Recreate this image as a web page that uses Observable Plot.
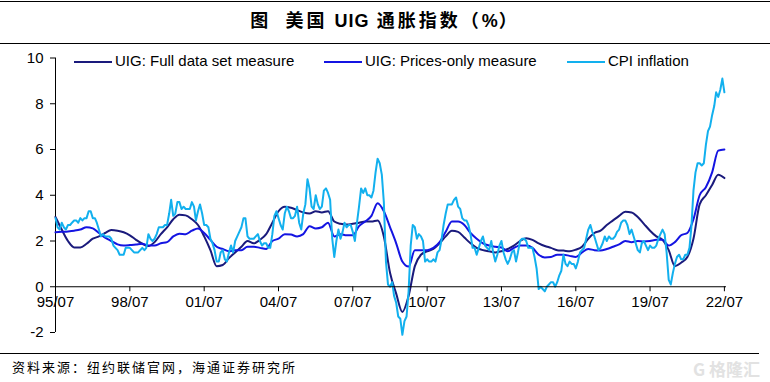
<!DOCTYPE html>
<html>
<head>
<meta charset="utf-8">
<script src="https://cdn.jsdelivr.net/npm/d3@7"></script>
<script src="https://cdn.jsdelivr.net/npm/@observablehq/plot@0.6"></script>
<style>
  html, body { margin: 0; padding: 0; background: #fff; }
  #page { position: relative; width: 770px; height: 382px; overflow: hidden; background: #fff; font-family: "Liberation Sans", Arial, sans-serif; }
  #title { position: absolute; left: 0; top: 1px; width: 770px; height: 41px; border-top: 1.5px solid #000; border-bottom: 1.5px solid #000; text-align: center; line-height: 34px; font-family: "Noto Sans CJK SC", sans-serif; font-weight: bold; font-size: 18px; letter-spacing: 3px; color: #000; }
  #title .lat { font-family: "Liberation Sans", Arial, sans-serif; font-weight: bold; letter-spacing: 1px; }
  #chart { position: absolute; left: 0; top: 45px; }
  #legend { position: absolute; left: 0; top: 51px; width: 770px; height: 20px; font-size: 15px; color: #000; }
  .item { position: absolute; top: 0; height: 20px; line-height: 20px; white-space: nowrap; }
  .sw { position: absolute; top: 10px; width: 38px; height: 2px; }
  .lab { position: absolute; top: 0; }
  #footer { position: absolute; left: 0; top: 353px; width: 759px; border-top: 1.5px solid #000; }
  #source { position: absolute; left: 12px; top: 357px; font-family: "Noto Sans CJK SC", sans-serif; font-size: 13px; letter-spacing: 2px; color: #000; line-height: 20px; }
  #wm { position: absolute; right: 10px; top: 356px; font-family: "Noto Sans CJK SC", sans-serif; font-size: 17px; color: #e2e2e2; font-weight: bold; }
</style>
</head>
<body>
<div id="page">
  <div id="title">图&nbsp;&nbsp;美国 <span class="lat">UIG</span> 通胀指数（<span class="lat">%</span>）</div>
  <div id="chart"></div>
  <div id="legend"></div>
  <div id="footer"></div>
  <div id="source">资料来源：纽约联储官网，海通证券研究所</div>
  <div id="wm">G 格隆汇</div>
</div>
<script>
// ---- Data ----
const seriesNames = ["UIG: Full data set measure", "UIG: Prices-only measure", "CPI inflation"];
const seriesColors = ["#1a1a7c", "#1414e2", "#12b0ee"];

// UIG series: quarterly readings starting 1995-07
const uigStart = "1995-07-01";
const uigFull = [
  3.05, 2.5,
  2.0, 1.72, 1.72, 1.88,
  2.1, 2.2, 2.35, 2.48,
  2.45, 2.38, 2.25, 2.05,
  1.88, 1.78, 1.95, 2.3,
  2.6, 2.95, 3.15, 3.12,
  2.95, 2.7, 2.2, 1.6,
  0.9, 0.95, 1.25, 1.5,
  1.75, 2.0, 1.9, 2.05,
  2.3, 2.8, 3.3, 3.5,
  3.45, 3.35, 3.25, 3.2,
  3.3, 3.25, 3.3, 2.85,
  2.75, 2.72, 2.75, 2.8,
  2.85, 2.85, 2.9, 2.2,
  0.6, -0.3, -1.1, -0.4,
  0.9, 1.4, 1.55, 1.65,
  1.9, 2.2, 2.45, 2.4,
  2.15, 1.9, 1.7, 1.6,
  1.55, 1.5, 1.55, 1.65,
  1.8, 2.0, 2.12, 2.05,
  1.9, 1.78, 1.7, 1.6,
  1.58, 1.55, 1.62, 1.75,
  2.1, 2.35, 2.45, 2.7,
  2.9, 3.1, 3.28, 3.25,
  3.05, 2.75, 2.45, 2.2,
  2.05, 1.6, 0.9, 1.05,
  1.3, 2.1, 3.6, 4.0,
  4.45, 4.9, 4.75
];
const uigPrices = [
  2.38, 2.4,
  2.42, 2.45, 2.5, 2.6,
  2.55, 2.35, 2.15, 2.0,
  1.85, 1.8, 1.82, 1.85,
  1.88, 1.8, 1.8, 1.9,
  1.95, 2.2, 2.32, 2.3,
  2.45, 2.55, 2.35, 2.05,
  1.75, 1.65, 1.55, 1.6,
  1.6, 1.75, 1.75, 1.7,
  1.65, 2.0, 2.1, 2.3,
  2.28, 2.2, 2.3, 2.65,
  2.55, 2.6, 2.8, 2.2,
  2.3, 2.25, 2.25, 2.65,
  2.85, 3.1, 3.65, 3.3,
  2.6, 1.9, 1.1, 0.88,
  1.6, 1.6, 1.6, 1.7,
  1.95, 2.4, 2.85, 2.85,
  2.7, 2.35, 2.1, 1.9,
  1.8, 1.75, 1.72, 1.55,
  1.7, 1.8, 1.8, 1.7,
  1.4, 1.28, 1.3, 1.4,
  1.4, 1.35, 1.3, 1.5,
  1.65, 1.6, 1.58, 1.65,
  1.75, 1.85, 2.0, 1.95,
  2.0, 1.98, 2.0, 2.05,
  2.05, 1.8, 1.95, 2.25,
  2.35, 2.95, 4.0, 4.35,
  5.0, 5.95, 6.0
];

// CPI inflation: monthly readings starting 1995-07
const cpiStart = "1995-07-01";
const cpiValues = [
  3.0, 2.6, 2.5, 2.8, 2.6, 2.5,
  2.7, 2.7, 2.8, 2.9, 2.9, 2.8, 3.0, 2.9, 3.0, 3.0, 3.3, 3.3,
  3.0, 3.0, 2.8, 2.5, 2.2, 2.3, 2.2, 2.2, 2.2, 2.1, 1.8, 1.7,
  1.6, 1.4, 1.4, 1.4, 1.7, 1.7, 1.7, 1.6, 1.5, 1.5, 1.5, 1.6,
  1.7, 1.6, 1.7, 2.3, 2.1, 2.0, 2.1, 2.3, 2.6, 2.6, 2.6, 2.7,
  2.7, 3.2, 3.8, 3.1, 3.2, 3.7, 3.7, 3.4, 3.5, 3.4, 3.4, 3.4,
  3.7, 3.5, 2.9, 3.3, 3.6, 3.2, 2.7, 2.7, 2.6, 2.1, 1.9, 1.6,
  1.1, 1.1, 1.5, 1.6, 1.2, 1.1, 1.5, 1.8, 1.5, 2.0, 2.2, 2.4,
  2.6, 3.0, 3.0, 2.2, 2.1, 2.1, 2.1, 2.2, 2.3, 2.0, 1.8, 1.9,
  1.9, 1.7, 1.7, 2.3, 3.1, 3.3, 3.0, 2.7, 2.5, 3.2, 3.5, 3.3,
  3.0, 3.0, 3.1, 3.5, 2.8, 2.5, 3.2, 3.6, 4.7, 4.3, 3.5, 3.4,
  4.0, 3.6, 3.4, 3.5, 4.2, 4.3, 4.1, 3.8, 2.1, 1.3, 2.0, 2.5,
  2.1, 2.4, 2.8, 2.6, 2.7, 2.7, 2.4, 2.0, 2.8, 3.5, 4.3, 4.1,
  4.3, 4.0, 4.0, 3.9, 4.2, 5.0, 5.6, 5.4, 4.9, 3.7, 1.1, 0.1,
  0.0, 0.2, -0.4, -0.7, -1.3, -1.4, -2.1, -1.5, -1.3, -0.2, 1.8, 2.7,
  2.6, 2.1, 2.3, 2.2, 2.0, 1.1, 1.2, 1.1, 1.1, 1.2, 1.1, 1.5,
  1.6, 2.1, 2.7, 3.2, 3.6, 3.6, 3.6, 3.8, 3.9, 3.5, 3.4, 3.0,
  2.9, 2.9, 2.7, 2.3, 1.7, 1.7, 1.4, 1.7, 2.0, 2.2, 1.8, 1.7,
  1.6, 2.0, 1.5, 1.1, 1.4, 1.8, 2.0, 1.5, 1.2, 1.0, 1.2, 1.5,
  1.6, 1.1, 1.5, 2.0, 2.1, 2.1, 2.0, 1.7, 1.7, 1.7, 1.3, 0.8,
  -0.1, 0.0, -0.1, -0.2, 0.0, 0.1, 0.2, 0.2, 0.0, 0.2, 0.5, 0.7,
  1.4, 1.0, 0.9, 1.1, 1.0, 1.0, 0.8, 1.1, 1.5, 1.6, 1.7, 2.1,
  2.5, 2.7, 2.4, 2.2, 1.9, 1.6, 1.7, 1.9, 2.2, 2.0, 2.2, 2.1,
  2.1, 2.2, 2.4, 2.5, 2.8, 2.9, 2.9, 2.7, 2.3, 2.5, 2.2, 1.9,
  1.6, 1.5, 1.9, 2.0, 1.8, 1.6, 1.8, 1.7, 1.7, 1.8, 2.1, 2.3,
  2.5, 2.3, 1.5, 0.3, 0.1, 0.6, 1.0, 1.3, 1.4, 1.2, 1.2, 1.4,
  1.4, 1.7, 2.6, 4.2, 5.0, 5.4, 5.4, 5.3, 5.4, 6.2, 6.8, 7.0,
  7.5, 7.9, 8.5, 8.3, 8.6, 9.1, 8.5
];

// Axis ticks
const xTickDates = ["1995-07-01","1998-07-01","2001-07-01","2004-07-01","2007-07-01","2010-07-01","2013-07-01","2016-07-01","2019-07-01","2022-07-01"];
const xTickLabels = ["95/07","98/07","01/07","04/07","07/07","10/07","13/07","16/07","19/07","22/07"];
const yTicks = [-2, 0, 2, 4, 6, 8, 10];
const xDomain = ["1995-07-01", "2022-08-01"];
const yDomain = [-2, 10];

// ---- Build tables ----
const parse = d3.utcParse("%Y-%m-%d");
const uig0 = parse(uigStart), cpi0 = parse(cpiStart);
const fullData = uigFull.map((v, i) => ({date: d3.utcMonth.offset(uig0, 3 * i), value: v}));
const pricesData = uigPrices.map((v, i) => ({date: d3.utcMonth.offset(uig0, 3 * i), value: v}));
const cpiData = cpiValues.map((v, i) => ({date: d3.utcMonth.offset(cpi0, i), value: v}));
const xTicks = xTickDates.map(parse);

const W = 770, H = 307, mT = 12.5, mB = 20, mL = 55, mR = 44;
const zeroShift = (H - mT - mB) * (0 - yDomain[0]) / (yDomain[1] - yDomain[0]);

const chart = Plot.plot({
  width: W, height: H,
  marginTop: mT, marginBottom: mB, marginLeft: mL, marginRight: mR,
  style: {fontFamily: "'Liberation Sans', Arial, sans-serif", fontSize: "15px", color: "#000", background: "transparent"},
  x: {type: "utc", domain: xDomain.map(parse), label: null},
  y: {domain: yDomain, label: null},
  marks: [
    Plot.ruleX([parse(xDomain[0])], {stroke: "#000", strokeWidth: 1}),
    Plot.axisY({ticks: yTicks, tickSize: 5, tickPadding: 7, tickFormat: d => String(d), fontSize: 15, stroke: "#000", strokeOpacity: 1, label: null}),
    Plot.line(fullData, {x: "date", y: "value", stroke: seriesColors[0], strokeWidth: 2, curve: "monotone-x"}),
    Plot.line(pricesData, {x: "date", y: "value", stroke: seriesColors[1], strokeWidth: 2, curve: "monotone-x"}),
    Plot.line(cpiData, {x: "date", y: "value", stroke: seriesColors[2], strokeWidth: 2}),
    Plot.ruleY([0], {stroke: "#000", strokeWidth: 1}),
    Plot.axisX({ticks: xTicks, tickFormat: (d, i) => xTickLabels[i], tickSize: 5, tickPadding: 5, dy: -zeroShift, fontSize: 15, stroke: "#000", strokeOpacity: 1, label: null})
  ]
});
document.getElementById("chart").appendChild(chart);

// ---- Legend (inside plot area) ----
const legendPos = [74, 324, 567];
const legend = document.getElementById("legend");
seriesNames.forEach((name, i) => {
  const it = document.createElement("div");
  it.className = "item";
  it.style.left = legendPos[i] + "px";
  it.innerHTML = `<div class="sw" style="left:0;background:${seriesColors[i]}"></div><div class="lab" style="left:41px">${name}</div>`;
  legend.appendChild(it);
});
</script>
</body>
</html>
